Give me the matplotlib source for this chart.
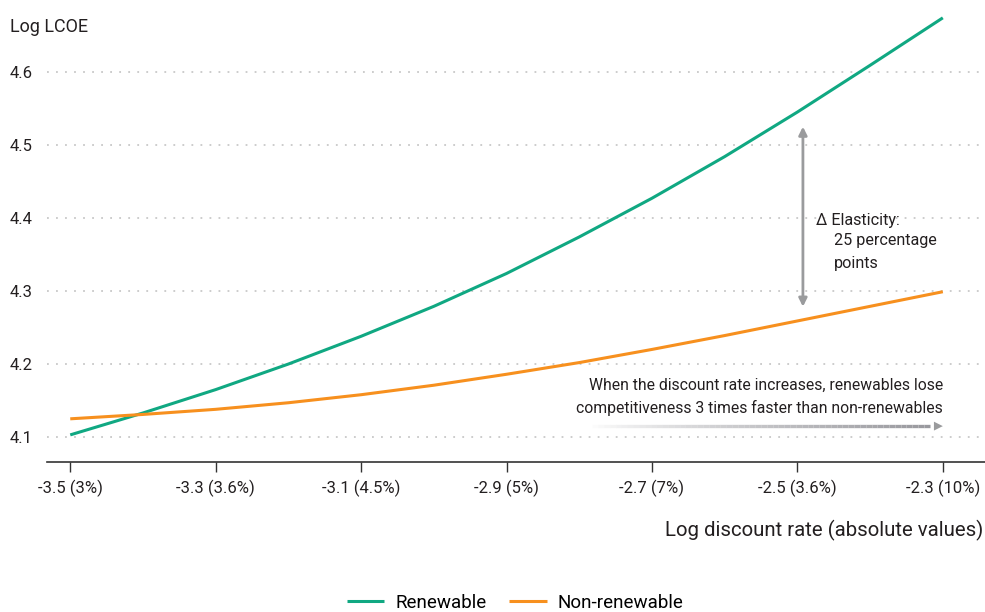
import numpy as np
import matplotlib
matplotlib.use("Agg")
import matplotlib.pyplot as plt
from matplotlib.collections import LineCollection
from matplotlib import font_manager

# data
log_rate = [-3.5, -3.4, -3.3, -3.2, -3.1, -3.0, -2.9, -2.8, -2.7, -2.6, -2.5, -2.4, -2.3]
renewable = [4.103, 4.133, 4.165, 4.200, 4.238, 4.279, 4.324, 4.374, 4.427, 4.484, 4.545, 4.609, 4.674]
non_renewable = [4.125, 4.131, 4.138, 4.147, 4.158, 4.171, 4.186, 4.202, 4.220, 4.239, 4.259, 4.279, 4.299]
xticks = [-3.5, -3.3, -3.1, -2.9, -2.7, -2.5, -2.3]
xtick_labels = ["-3.5 (3%)", "-3.3 (3.6%)", "-3.1 (4.5%)", "-2.9 (5%)", "-2.7 (7%)", "-2.5 (3.6%)", "-2.3 (10%)"]
yticks = [4.1, 4.2, 4.3, 4.4, 4.5, 4.6]

names = {f.name for f in font_manager.fontManager.ttflist}
fam = "Liberation Sans Narrow" if "Liberation Sans Narrow" in names else "Roboto"
plt.rcParams["font.family"] = [fam, "DejaVu Sans"]

GREEN = "#10a882"
ORANGE = "#f7901e"
TXT = "#231f20"
GRAY = "#9a9b9d"

fig = plt.figure(figsize=(9.85, 6.12), dpi=100)
ax = fig.add_axes([0.0477, 0.245, 0.9523, 0.739])

ax.plot(log_rate, renewable, color=GREEN, lw=2.2, label="Renewable", solid_capstyle="butt")
ax.plot(log_rate, non_renewable, color=ORANGE, lw=2.2, label="Non-renewable", solid_capstyle="butt")

ax.set_xlim(-3.532, -2.242)
ax.set_ylim(4.0658, 4.685)
for y in yticks:
    ax.axhline(y, color="#c8c8c8", lw=1.3, ls=(0, (1, 4)), zorder=0)

ax.set_xticks(xticks)
ax.set_xticklabels(xtick_labels)
ax.set_yticks(yticks)
ax.set_yticklabels([f"{v:.1f}" for v in yticks])
ax.tick_params(axis="x", length=7, width=1, color="#333333", labelsize=12, labelcolor=TXT, pad=6)
ax.tick_params(axis="y", length=0, labelsize=12, labelcolor=TXT, pad=26.6)
for lab in ax.get_yticklabels():
    lab.set_horizontalalignment("left")
for s in ["top", "right", "left"]:
    ax.spines[s].set_visible(False)
ax.spines["bottom"].set_color("#333333")
ax.spines["bottom"].set_linewidth(1.2)

fig.text(10 / 985, 1 - 27 / 612, "Log LCOE", fontsize=13, color=TXT, va="center", ha="left")
fig.text(983 / 985, 1 - 530 / 612, "Log discount rate (absolute values)", fontsize=14.7,
         color=TXT, va="center", ha="right")

# vertical elasticity arrow
ax.annotate("", xy=(-2.4924, 4.525), xytext=(-2.4924, 4.2785),
            arrowprops=dict(arrowstyle="<|-|>", color=GRAY, lw=2, mutation_scale=12,
                            shrinkA=0, shrinkB=0))
ax.text(-2.4749, 4.397, "\u0394 Elasticity:", fontsize=11.6, color=TXT, va="center", ha="left")
ax.text(-2.4498, 4.369, "25 percentage", fontsize=11.6, color=TXT, va="center", ha="left")
ax.text(-2.4498, 4.338, "points", fontsize=11.6, color=TXT, va="center", ha="left")

# gradient horizontal arrow
xs = np.linspace(-2.79, -2.318, 60)
segs = [[(xs[i], 4.115), (xs[i + 1], 4.115)] for i in range(len(xs) - 1)]
cols = [(0.6, 0.6, 0.62, a) for a in np.linspace(0.0, 1.0, len(segs)) ** 0.8]
ax.add_collection(LineCollection(segs, colors=cols, linewidths=2.4))
ax.annotate("", xy=(-2.3, 4.115), xytext=(-2.322, 4.115),
            arrowprops=dict(arrowstyle="-|>", color=GRAY, lw=0, mutation_scale=16,
                            shrinkA=0, shrinkB=0))
ax.text(-2.3, 4.1712, "When the discount rate increases, renewables lose",
        fontsize=11.3, color=TXT, ha="right", va="center")
ax.text(-2.3, 4.1397, "competitiveness 3 times faster than non-renewables",
        fontsize=11.3, color=TXT, ha="right", va="center")

fig.legend(loc="center", bbox_to_anchor=(0.523, 1 - 603 / 612), ncol=2, frameon=False,
           fontsize=13.5, handlelength=2.0, handletextpad=0.6, columnspacing=1.2)

fig.savefig("out.png", dpi=100)
